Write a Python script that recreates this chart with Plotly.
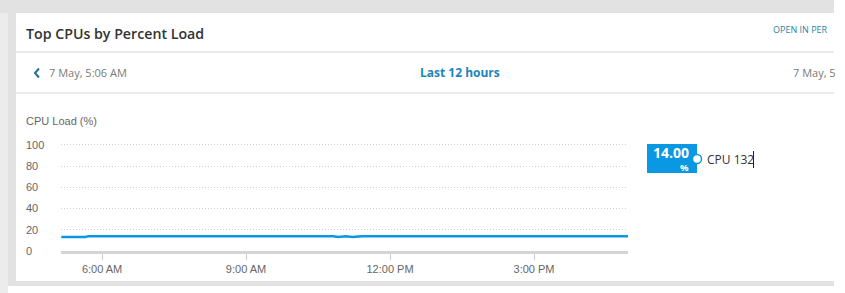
import plotly.graph_objects as go

W, H = 845, 293

# ---- data ----
times = ["2024-05-07 05:09", "2024-05-07 05:39", "2024-05-07 05:43", "2024-05-07 10:49",
         "2024-05-07 10:55", "2024-05-07 11:01", "2024-05-07 11:05", "2024-05-07 11:13",
         "2024-05-07 11:19", "2024-05-07 11:25", "2024-05-07 16:58"]
cpu_load = [13.2, 13.2, 14.0, 14.0, 13.2, 14.0, 14.0, 13.3, 13.4, 14.0, 14.0]
series_name = "CPU 132"
current_value = "14.00"
y_ticks = [0, 20, 40, 60, 80, 100]
x_ticks = ["2024-05-07 06:00", "2024-05-07 09:00", "2024-05-07 12:00", "2024-05-07 15:00"]
x_tick_labels = ["6:00 AM", "9:00 AM", "12:00 PM", "3:00 PM"]
title = "Top CPUs by Percent Load"
range_start = "7 May, 5:06 AM"
range_end = "7 May, 5"
range_label = "Last 12 hours"
link_label = "OPEN IN PER"
y_title = "CPU Load (%)"

BLUE = "#0a98e3"


def px(x):
    return x / W


def py(y):
    return 1 - y / H


fig = go.Figure()
fig.add_trace(go.Scatter(x=times, y=cpu_load, mode="lines",
                         line=dict(color=BLUE, width=2.5), name=series_name,
                         hoverinfo="skip"))

shapes = []
# page background / card
shapes.append(dict(type="rect", xref="paper", yref="paper", x0=px(0), x1=px(834),
                   y0=py(286), y1=py(0), fillcolor="#e2e2e2", line_width=0, layer="below"))
shapes.append(dict(type="rect", xref="paper", yref="paper", x0=px(0), x1=px(8),
                   y0=py(293), y1=py(13), fillcolor="#ececec", line_width=0, layer="below"))
shapes.append(dict(type="rect", xref="paper", yref="paper", x0=px(16), x1=px(834),
                   y0=py(281), y1=py(13), fillcolor="white", line_width=0, layer="below"))
# separators
for yy in (52, 93):
    shapes.append(dict(type="line", xref="paper", yref="paper", x0=px(16), x1=px(834),
                       y0=py(yy), y1=py(yy), line=dict(color="#d6d6d6", width=1)))
# chevron
shapes.append(dict(type="path", xref="paper", yref="paper",
                   path=f"M {px(39)} {py(68.5)} L {px(35)} {py(73)} L {px(39)} {py(77.5)}",
                   line=dict(color="#1d7394", width=2)))
# legend badge
shapes.append(dict(type="rect", xref="paper", yref="paper", x0=px(647), x1=px(697),
                   y0=py(173), y1=py(144), fillcolor=BLUE, line_width=0))
shapes.append(dict(type="circle", xref="paper", yref="paper", x0=px(692.5), x1=px(701.5),
                   y0=py(163.5), y1=py(154.5), fillcolor="white", line=dict(color=BLUE, width=1.5)))
# text cursor
shapes.append(dict(type="line", xref="paper", yref="paper", x0=px(753.5), x1=px(753.5),
                   y0=py(168), y1=py(151), line=dict(color="#222", width=1)))
fig.update_layout(shapes=shapes)

ann = []
ann.append(dict(text=title, x=px(24), y=py(33), xanchor="left", yanchor="middle",
                font=dict(family="Open Sans", size=14.2, color="#333333", weight=600)))
ann.append(dict(text=link_label, x=px(771), y=py(29), xanchor="left", yanchor="middle",
                font=dict(family="Open Sans", size=9, color="#2b7fa3")))
ann.append(dict(text=range_start, x=px(47), y=py(73), xanchor="left", yanchor="middle",
                font=dict(family="Open Sans", size=11, color="#7a7a7a")))
ann.append(dict(text=f"<b>{range_label}</b>", x=px(460), y=py(72), xanchor="center", yanchor="middle",
                font=dict(family="Open Sans", size=12, color="#1c84bd")))
ann.append(dict(text=range_end, x=px(791), y=py(73), xanchor="left", yanchor="middle",
                font=dict(family="Open Sans", size=11, color="#7a7a7a")))
ann.append(dict(text=y_title, x=px(24), y=py(121), xanchor="left", yanchor="middle",
                font=dict(family="Arial, Liberation Sans", size=11, color="#666666")))
ann.append(dict(text=f"<b>{current_value}</b>", x=px(690), y=py(152.5), xanchor="right",
                yanchor="middle", borderpad=0,
                font=dict(family="Open Sans", size=14, color="white")))
ann.append(dict(text="<b>%</b>", x=px(690), y=py(167), xanchor="right", yanchor="middle",
                borderpad=0, font=dict(family="Open Sans", size=9.5, color="white")))
ann.append(dict(text=series_name, x=px(705), y=py(159), xanchor="left", yanchor="middle",
                font=dict(family="Open Sans", size=12, color="#333333")))
for a in ann:
    a.update(xref="paper", yref="paper", showarrow=False)
fig.update_layout(annotations=ann)

fig.update_layout(
    width=W, height=H, margin=dict(l=0, r=0, t=0, b=0, pad=0, autoexpand=False),
    paper_bgcolor="white", plot_bgcolor="rgba(0,0,0,0)",
    showlegend=False,
    xaxis=dict(type="date", domain=[px(61), px(628)], automargin=False,
               range=["2024-05-07 05:08:40", "2024-05-07 16:57:30"],
               tickvals=x_ticks, ticktext=x_tick_labels,
               showgrid=False, zeroline=False,
               showline=True, linecolor="#d4d4d4", linewidth=3,
               ticks="outside", ticklen=6, tickcolor="#cccccc", tickwidth=1,
               tickfont=dict(family="Arial, Liberation Sans", size=11, color="#666666"),
               fixedrange=True),
    yaxis=dict(domain=[py(251), py(142.82)], range=[0, 102], automargin=False,
               tickvals=y_ticks, ticktext=[str(v) for v in y_ticks],
               showgrid=True, gridcolor="#cfcfcf", griddash="1px,2px", gridwidth=1,
               zeroline=False, showline=False, ticks="",
               side="right", anchor="free", position=px(25),
               ticklabelstandoff=0,
               tickfont=dict(family="Arial, Liberation Sans", size=11, color="#666666"),
               fixedrange=True),
)

fig.write_html("out.html")
